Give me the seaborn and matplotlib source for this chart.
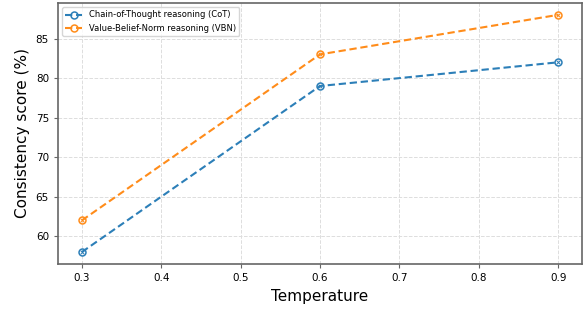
import matplotlib
matplotlib.use('Agg')
import matplotlib.pyplot as plt
from matplotlib.lines import Line2D
import seaborn as sns
import pandas as pd

# values
temperatures = [0.3, 0.6, 0.9]
cot_scores = [58, 79, 82]
vbn_scores = [62, 83, 88]
series_names = ['Chain-of-Thought reasoning (CoT)', 'Value-Belief-Norm reasoning (VBN)']

df = pd.DataFrame({
    'temperature': temperatures * 2,
    'score': cot_scores + vbn_scores,
    'method': [series_names[0]] * 3 + [series_names[1]] * 3,
})

sns.set_style('white')
plt.rcParams['font.family'] = ['DejaVu Sans']
plt.rcParams['text.color'] = 'black'
plt.rcParams['axes.labelcolor'] = 'black'
plt.rcParams['xtick.color'] = 'black'
plt.rcParams['ytick.color'] = 'black'

fig, ax = plt.subplots(figsize=(5.84, 3.32), dpi=100)
fig.subplots_adjust(left=0.0993, right=0.9966, top=0.991, bottom=0.205)

palette = ['#2c7fb8', '#ff8c1a']
sns.lineplot(data=df, x='temperature', y='score', hue='method', palette=palette,
             marker='o', markersize=5, linestyle='--', linewidth=1.5, legend=False, ax=ax)
for line, c in zip(ax.lines, palette):
    line.set_markerfacecolor('none')
    line.set_markeredgecolor(c)
    line.set_markeredgewidth(1.1)
    line.set_dashes((3.5, 1.8))
# small cross inside each marker
for name, c in zip(series_names, palette):
    sub = df[df['method'] == name]
    ax.scatter(sub['temperature'], sub['score'], marker='x', s=7, color=c, linewidths=0.7, zorder=5)

ax.set_xlabel('Temperature', fontsize=11)
ax.set_ylabel('Consistency score (%)', fontsize=11)
ax.tick_params(axis='both', labelsize=7.5, length=3, width=0.8, color='#666666', labelcolor='black',
               direction='out', bottom=True, left=True)
ax.grid(True, linestyle='--', color='#dddddd', linewidth=0.7)
for s in ax.spines.values():
    s.set_color('#666666')
    s.set_linewidth(1.2)

handles = [Line2D([], [], color=c, linestyle='--', linewidth=1.5, marker='o', markersize=5,
                  markerfacecolor='none', markeredgecolor=c, markeredgewidth=1.1, dashes=(3.5, 1.8))
           for c in palette]
leg = ax.legend(handles, series_names, loc='upper left', fontsize=6, frameon=True, handlelength=2.0)
leg.get_frame().set_edgecolor('#cccccc')

plt.savefig('out.png', dpi=100)
